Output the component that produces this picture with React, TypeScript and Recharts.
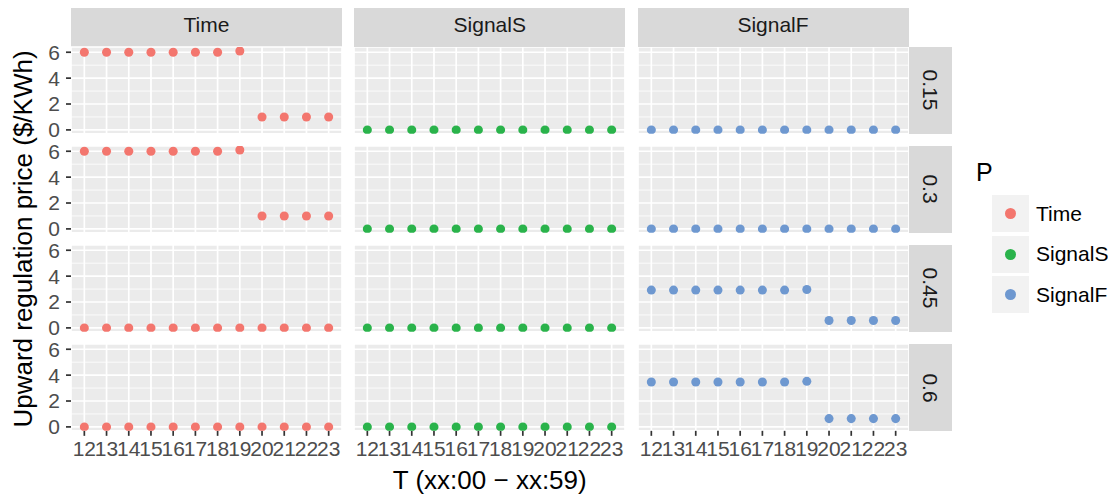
import React from "react";
import { ScatterChart, Scatter, XAxis, YAxis, ZAxis, CartesianGrid, ReferenceLine } from "recharts";

const hours = [12, 13, 14, 15, 16, 17, 18, 19, 20, 21, 22, 23];
const methods = ["Time", "SignalS", "SignalF"];
const pLevels = ["0.15", "0.3", "0.45", "0.6"];
const colors = ["#F3766E", "#2AB34B", "#6E98D0"];
const yTicks = [0, 2, 4, 6];
const yMinor = [1, 3, 5];

// upward regulation price by hour, one array per (method, P)
const timeP015 = [6, 6, 6, 6, 6, 6, 6, 6.1, 1, 1, 1, 1];
const timeP03 = [6, 6, 6, 6, 6, 6, 6, 6.1, 1, 1, 1, 1];
const timeP045 = [0, 0, 0, 0, 0, 0, 0, 0, 0, 0, 0, 0];
const timeP06 = [0, 0, 0, 0, 0, 0, 0, 0, 0, 0, 0, 0];
const signalSP015 = [0, 0, 0, 0, 0, 0, 0, 0, 0, 0, 0, 0];
const signalSP03 = [0, 0, 0, 0, 0, 0, 0, 0, 0, 0, 0, 0];
const signalSP045 = [0, 0, 0, 0, 0, 0, 0, 0, 0, 0, 0, 0];
const signalSP06 = [0, 0, 0, 0, 0, 0, 0, 0, 0, 0, 0, 0];
const signalFP015 = [0, 0, 0, 0, 0, 0, 0, 0, 0, 0, 0, 0];
const signalFP03 = [0, 0, 0, 0, 0, 0, 0, 0, 0, 0, 0, 0];
const signalFP045 = [2.92, 2.92, 2.92, 2.92, 2.92, 2.92, 2.92, 2.97, 0.57, 0.57, 0.57, 0.57];
const signalFP06 = [3.47, 3.47, 3.47, 3.47, 3.47, 3.47, 3.47, 3.52, 0.64, 0.64, 0.64, 0.64];

const grid = [
  [timeP015, signalSP015, signalFP015],
  [timeP03, signalSP03, signalFP03],
  [timeP045, signalSP045, signalFP045],
  [timeP06, signalSP06, signalFP06],
];

const PX0 = 71;
const PW = 271;
const GX = 12.25;
const PY0 = 46.7;
const PH = 86.85;
const GY = 12.3;
const YAXW = 40;
const XAXH = 40;
const PAD = 12; // room above/below the panel so y tick labels are not clipped
const FONT = "'Liberation Sans', Arial, Helvetica, sans-serif";

const colX = (c: number) => PX0 + c * (PW + GX);
const rowY = (r: number) => PY0 + r * (PH + GY);

function Panel({ row, col }: { row: number; col: number }) {
  const left = col === 0;
  const bottom = row === pLevels.length - 1;
  const pad = left ? PAD : 0;
  const data = hours.map((t, i) => ({ t, v: grid[row][col][i] }));
  return (
    <div style={{ position: "absolute", left: colX(col) - (left ? YAXW : 0), top: rowY(row) - pad }}>
      <ScatterChart
        width={PW + (left ? YAXW : 0)}
        height={PH + (bottom ? XAXH : 0) + pad * 2}
        margin={{ top: pad, right: 0, bottom: pad, left: 0 }}
      >
        <CartesianGrid fill="#EBEBEB" stroke="#FFFFFF" strokeWidth={1.7} />
        <XAxis
          type="number"
          dataKey="t"
          domain={[11.4, 23.6]}
          ticks={hours}
          interval={0}
          allowDataOverflow
          hide={!bottom}
          height={XAXH}
          axisLine={false}
          tickSize={5}
          tickMargin={5}
          tickLine={{ stroke: "#333333", strokeWidth: 1.7 }}
          tick={{ fill: "#4D4D4D", fontSize: 21 }}
        />
        <YAxis
          type="number"
          dataKey="v"
          domain={[-0.305, 6.405]}
          ticks={yTicks}
          interval={0}
          allowDataOverflow
          hide={!left}
          width={YAXW}
          axisLine={false}
          tickSize={5}
          tickMargin={6}
          tickLine={{ stroke: "#333333", strokeWidth: 1.7 }}
          tick={{ fill: "#4D4D4D", fontSize: 21 }}
        />
        <ZAxis range={[100, 100]} />
        {yMinor.map((m) => (
          <ReferenceLine key={m} y={m} stroke="#FFFFFF" strokeWidth={0.8} />
        ))}
        <Scatter data={data} fill={colors[col]} isAnimationActive={false} />
      </ScatterChart>
    </div>
  );
}

export default function App() {
  const right = colX(2) + PW;
  return (
    <div
      style={{
        position: "relative",
        left: -8,
        top: -8,
        width: 1116,
        height: 503,
        background: "#FFFFFF",
        fontFamily: FONT,
        overflow: "hidden",
      }}
    >
      {methods.map((m, c) => (
        <div
          key={m}
          style={{
            position: "absolute",
            left: colX(c),
            top: 4,
            width: PW,
            height: PY0 - 4,
            background: "#D9D9D9",
            color: "#1A1A1A",
            fontSize: 21,
            display: "flex",
            alignItems: "center",
            justifyContent: "center",
          }}
        >
          {m}
        </div>
      ))}
      {pLevels.map((p, r) => (
        <div
          key={p}
          style={{
            position: "absolute",
            left: right,
            top: rowY(r),
            width: 43,
            height: PH,
            background: "#D9D9D9",
            color: "#1A1A1A",
            fontSize: 21,
            display: "flex",
            alignItems: "center",
            justifyContent: "center",
          }}
        >
          <span style={{ transform: "rotate(90deg)", whiteSpace: "nowrap" }}>{p}</span>
        </div>
      ))}
      {pLevels.map((p, r) => methods.map((m, c) => <Panel key={p + m} row={r} col={c} />))}
      <div
        style={{
          position: "absolute",
          left: PX0,
          width: right - PX0,
          top: 465,
          textAlign: "center",
          fontSize: 26,
          color: "#000000",
          whiteSpace: "nowrap",
        }}
      >
        T (xx:00 − xx:59)
      </div>
      <div
        style={{
          position: "absolute",
          left: 23,
          top: (PY0 + rowY(3) + PH) / 2,
          transform: "translate(-50%, -50%) rotate(-90deg)",
          fontSize: 26,
          color: "#000000",
          whiteSpace: "nowrap",
        }}
      >
        Upward regulation price ($/KWh)
      </div>
      <div style={{ position: "absolute", left: 976, top: 158, fontSize: 25, color: "#000000" }}>P</div>
      {methods.map((m, i) => (
        <div key={m} style={{ position: "absolute", left: 992, top: 195 + i * 40.5, height: 37, display: "flex", alignItems: "center" }}>
          <div
            style={{
              width: 37,
              height: 37,
              background: "#F2F2F2",
              display: "flex",
              alignItems: "center",
              justifyContent: "center",
            }}
          >
            <div style={{ width: 11, height: 11, borderRadius: "50%", background: colors[i] }} />
          </div>
          <span style={{ marginLeft: 7, fontSize: 21, color: "#000000" }}>{m}</span>
        </div>
      ))}
    </div>
  );
}
